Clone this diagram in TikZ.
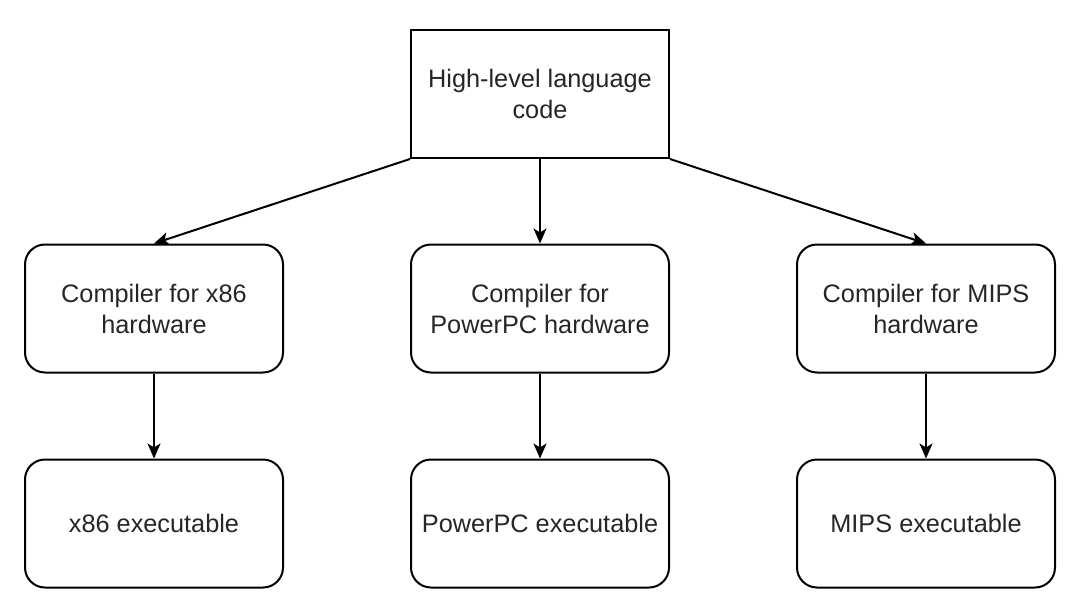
\documentclass[tikz,border=0pt]{standalone}
\usepackage{fontspec}
\setmainfont{Liberation Sans}
\usetikzlibrary{arrows.meta}
\begin{document}
\begin{tikzpicture}[x=1pt,y=-1pt,
  box/.style={draw=black,line width=2pt,fill=white,minimum width=258pt,minimum height=128pt,inner sep=0pt,align=center,font=\fontsize{25.3}{31}\selectfont,text=black!85},
  rbox/.style={box,rounded corners=20pt},
  arr/.style={line width=2pt,-{Stealth[length=15pt,width=13pt,inset=4pt]}}]
\useasboundingbox (0,0) rectangle (1091,607);
\node[box] (top) at (540,94) {High-level language\\code};
\node[rbox] (c1) at (154,308.5) {Compiler for x86\\hardware};
\node[rbox] (c2) at (540,308.5) {Compiler for\\PowerPC hardware};
\node[rbox] (c3) at (926,308.5) {Compiler for MIPS\\hardware};
\node[rbox] (e1) at (154,523.5) {x86 executable};
\node[rbox] (e2) at (540,523.5) {PowerPC executable};
\node[rbox] (e3) at (926,523.5) {MIPS executable};
\draw[arr] (top.south west) -- (c1.north);
\draw[arr] (top.south) -- (c2.north);
\draw[arr] (top.south east) -- (c3.north);
\draw[arr] (c1) -- (e1);
\draw[arr] (c2) -- (e2);
\draw[arr] (c3) -- (e3);
\end{tikzpicture}
\end{document}
